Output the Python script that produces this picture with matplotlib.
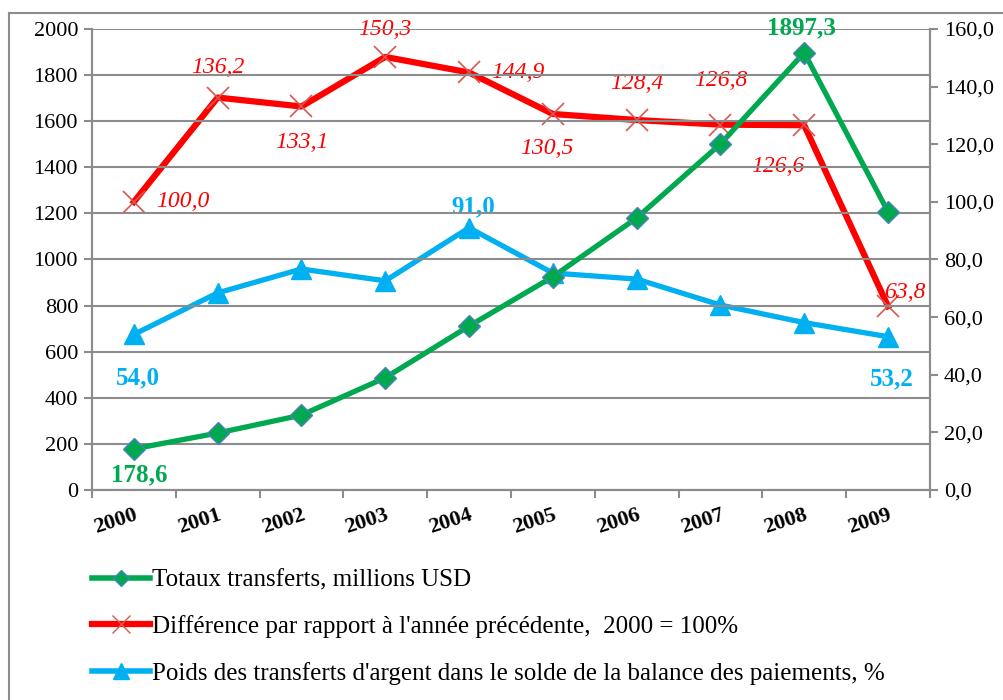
# remittances chart - totals (left axis), index and share (right axis)
import matplotlib
matplotlib.use('Agg')
from matplotlib import pyplot as plt
from matplotlib.lines import Line2D

years = ['2000', '2001', '2002', '2003', '2004', '2005', '2006', '2007', '2008', '2009']
totals = [178.6, 247, 325, 487, 711, 925, 1180, 1501, 1897.3, 1207]
index_prev = [100.0, 136.2, 133.1, 150.3, 144.9, 130.5, 128.4, 126.8, 126.6, 63.8]
share_bop = [54.0, 68.4, 76.7, 72.6, 91.0, 75.3, 73.2, 64.2, 58.1, 53.2]

labels = ['Totaux transferts, millions USD',
          "Différence par rapport à l'année précédente,  2000 = 100%",
          "Poids des transferts d'argent dans le solde de la balance des paiements, %"]

GREEN = '#00A84F'
RED = '#FF0000'
BLUE = '#00B0F0'
GRID = '#8C8C8C'

plt.rcParams['font.family'] = ['Liberation Serif', 'DejaVu Serif']

fig = plt.figure(figsize=(10.04, 7.0), dpi=100)
ax = fig.add_axes([0.0916, 0.30, 0.8346, 0.6586])
ax2 = ax.twinx()

x = list(range(len(years)))

# gridlines follow the left axis
ax.set_ylim(0, 2000)
ax.set_yticks(range(0, 2001, 200))
ax.yaxis.grid(True, color=GRID, linewidth=1.5)
ax.set_axisbelow(True)
ax.set_xlim(-0.5, len(years) - 0.5)
ax.set_xticks(x)
ax.set_xticklabels(years, rotation=18, fontweight='bold', fontsize=16,
                   ha='right', va='top', rotation_mode='anchor')
ax.set_xticks([i - 0.5 for i in range(len(years) + 1)], minor=True)
ax.tick_params(axis='x', which='major', length=0, pad=11)
ax.tick_params(axis='x', which='minor', length=6, color=GRID, width=1.5)
ax.tick_params(axis='y', length=6, color=GRID, width=1.5, labelsize=16, pad=4)

ax2.set_ylim(0, 160)
ax2.set_yticks(range(0, 161, 20))
ax2.set_yticklabels([f'{v:.1f}'.replace('.', ',') for v in range(0, 161, 20)])
ax2.tick_params(axis='y', length=6, color=GRID, width=1.5, labelsize=16, pad=4)

for a in (ax, ax2):
    a.spines['top'].set_visible(False)
    for s in ('left', 'right', 'bottom'):
        a.spines[s].set_color(GRID)
        a.spines[s].set_linewidth(1.5)

# series
ax2.plot(x, index_prev, color=RED, lw=4.5, marker='x', ms=16, mec='#D9574F', mew=1.2,
         zorder=3, clip_on=False)
ax2.plot(x, share_bop, color=BLUE, lw=3.8, marker='^', ms=14, mec=BLUE, zorder=3, clip_on=False)
ax.plot(x, totals, color=GREEN, lw=3.8, marker='D', ms=11, mfc=GREEN, mec='#4F81BD', mew=1,
        zorder=4, clip_on=False)
ax.set_zorder(ax2.get_zorder() + 1)
ax.patch.set_visible(False)


def fmt(v):
    return f'{v:.1f}'.replace('.', ',')


# red data labels (italic), offsets in points
red_off = [(35, 0), (0, 22), (0, -26), (0, 20), (35, 0), (-4, -25), (0, 26), (0, 32), (-19, -30), (12, 10)]
for i, v in enumerate(index_prev):
    dx, dy = red_off[i]
    ax2.annotate(fmt(v), (x[i], v), xytext=(dx, dy), textcoords='offset points',
                 ha='center', va='center', color=RED, style='italic', fontsize=17, zorder=6)

# green labels
ax.annotate(fmt(totals[0]), (x[0], totals[0]), xytext=(4, -19), textcoords='offset points',
            ha='center', va='center', color=GREEN, fontweight='bold', fontsize=18)
ax.annotate(fmt(totals[8]), (x[8], totals[8]), xytext=(-2, 18), textcoords='offset points',
            ha='center', va='center', color=GREEN, fontweight='bold', fontsize=18)

# blue labels
for i, dy in ((0, -31), (4, 15), (9, -30)):
    ax2.annotate(fmt(share_bop[i]), (x[i], share_bop[i]), xytext=(3, dy), textcoords='offset points',
                 ha='center', va='center', color=BLUE, fontweight='bold', fontsize=18)

# legend below the chart
handles = [
    Line2D([], [], color=GREEN, lw=4, marker='D', ms=8, mfc=GREEN, mec='#4F81BD'),
    Line2D([], [], color=RED, lw=4.5, marker='x', ms=13, mec='#D9574F', mew=1),
    Line2D([], [], color=BLUE, lw=4, marker='^', ms=11, mec=BLUE),
]
fig.legend(handles, labels, loc='upper left', bbox_to_anchor=(0.0796, 0.205), frameon=False,
           fontsize=18, handlelength=2.3, handletextpad=0.08, labelspacing=0.95, borderpad=0)

# outer frame (top and left edges)
fig.add_artist(Line2D([0.009, 1.0], [1 - 13 / 700, 1 - 13 / 700], color=GRID, lw=1.5,
                      transform=fig.transFigure))
fig.add_artist(Line2D([0.009, 0.009], [0.0, 1 - 13 / 700], color=GRID, lw=1.5,
                      transform=fig.transFigure))

fig.savefig('out.png', dpi=100)
